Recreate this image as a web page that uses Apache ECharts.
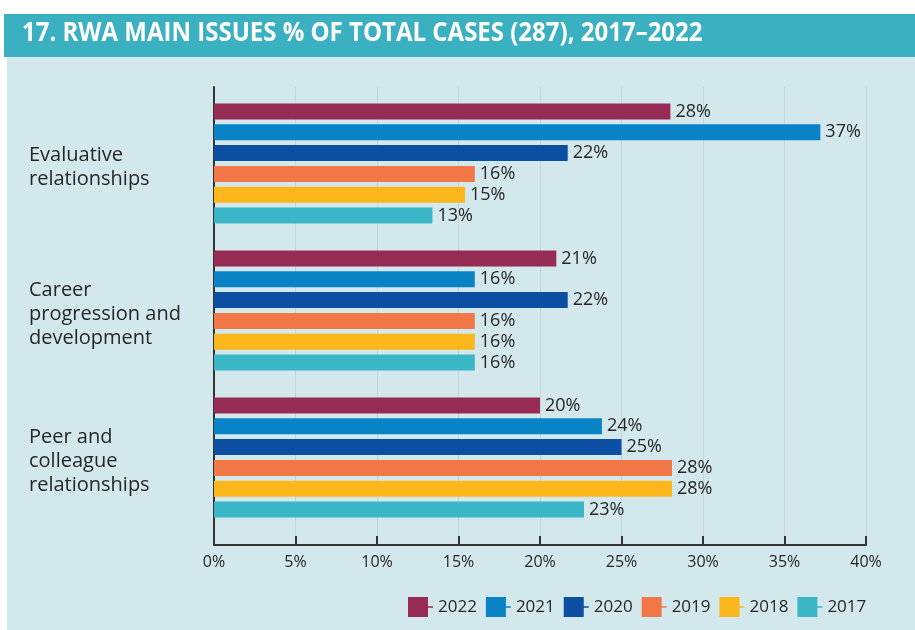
<!DOCTYPE html>
<html>
<head>
<meta charset="utf-8">
<script src="https://cdn.jsdelivr.net/npm/echarts@6/dist/echarts.min.js"></script>
<style>
html,body{margin:0;padding:0;background:#fff;}
#chart{width:915px;height:630px;}
</style>
</head>
<body>
<div id="chart"></div>
<script>
const titleText = '17. RWA MAIN ISSUES % OF TOTAL CASES (287), 2017–2022';
const categories = ['Evaluative\nrelationships', 'Career\nprogression and\ndevelopment', 'Peer and\ncolleague\nrelationships'];
const years = ['2022', '2021', '2020', '2019', '2018', '2017'];
const v2022 = [28.0, 21.0, 20.0];
const v2021 = [37.2, 16.0, 23.8];
const v2020 = [21.7, 21.7, 25.0];
const v2019 = [16.0, 16.0, 28.1];
const v2018 = [15.4, 16.0, 28.1];
const v2017 = [13.4, 16.0, 22.7];
const tickLabels = ['0%', '5%', '10%', '15%', '20%', '25%', '30%', '35%', '40%'];
const colors = ['#962B53', '#0983C6', '#0B4EA2', '#F17746', '#FBB61B', '#3AB6C6'];

const seriesValues = [v2022, v2021, v2020, v2019, v2018, v2017];
const FONT = '"Open Sans", sans-serif';
const TXT = '#262626';

const chart = echarts.init(document.getElementById('chart'));
const legendIcon = 'path://M0,0H20V20H0Z M20,9.2H25V10.8H20Z';

const option = {
  backgroundColor: '#ffffff',
  animation: false,
  color: colors,
  graphic: [
    { type: 'rect', z: -10, silent: true, shape: { x: 4, y: 14, width: 911, height: 43 }, style: { fill: '#3AB0C1' } },
    { type: 'rect', z: -10, silent: true, shape: { x: 7, y: 57, width: 908, height: 573 }, style: { fill: '#D3E8ED' } },
    { type: 'text', z: 10, x: 22, y: 36, scaleX: 1.0, scaleY: 1.08, originX: 22, originY: 36,
      style: { text: titleText, fill: '#ffffff', font: 'bold 24px "Open Sans", sans-serif', verticalAlign: 'middle', align: 'left' } }
  ],
  legend: {
    left: 403, top: 592,
    itemWidth: 25, itemHeight: 20, itemGap: 9,
    icon: legendIcon,
    data: years,
    textStyle: { fontFamily: FONT, fontSize: 17, color: TXT }
  },
  grid: [
    { left: 214, right: 49, top: 90, bottom: 99, containLabel: false },
    { left: 214, right: 49, top: 87, bottom: 85, containLabel: false },
    { left: 214, right: 49, top: 94, bottom: 95, containLabel: false }
  ],
  xAxis: [
    { gridIndex: 0, type: 'value', min: 0, max: 40, interval: 5, show: false },
    { gridIndex: 1, type: 'value', min: 0, max: 40, interval: 5,
      axisLine: { show: true, lineStyle: { color: '#333', width: 2 } },
      axisTick: { show: true, inside: true, length: 9, lineStyle: { color: '#333', width: 2 } },
      axisLabel: { margin: 9, fontFamily: FONT, fontSize: 16, color: TXT,
        formatter: function (v) { return tickLabels[Math.round(v / 5)]; } },
      splitLine: { show: true, lineStyle: { color: '#c5d3d7', width: 1 } }
    },
    { gridIndex: 2, type: 'value', min: 0, max: 40, interval: 5, show: false }
  ],
  yAxis: [
    { gridIndex: 0, type: 'category', data: categories, inverse: true,
      axisLine: { show: false }, axisTick: { show: false }, axisLabel: { show: false }
    },
    { gridIndex: 1, type: 'value', min: 0, max: 1,
      axisLine: { show: true, lineStyle: { color: '#333', width: 2 } },
      axisTick: { show: false }, axisLabel: { show: false }, splitLine: { show: false }
    },
    { gridIndex: 2, type: 'category', data: categories, inverse: true,
      axisLine: { show: false }, axisTick: { show: false },
      axisLabel: { align: 'left', margin: 185, fontFamily: FONT, fontSize: 20, lineHeight: 24, color: TXT }
    }
  ],
  series: years.map(function (y, i) {
    return {
      name: y, type: 'bar', xAxisIndex: 0, yAxisIndex: 0,
      data: seriesValues[i],
      barWidth: 16, barGap: '30%',
      itemStyle: { color: colors[i] },
      label: { show: true, position: 'right', distance: 5, fontFamily: FONT, fontSize: 18, color: TXT,
        formatter: function (p) { return Math.round(p.value) + '%'; } }
    };
  })
};
chart.setOption(option);
</script>
</body>
</html>
